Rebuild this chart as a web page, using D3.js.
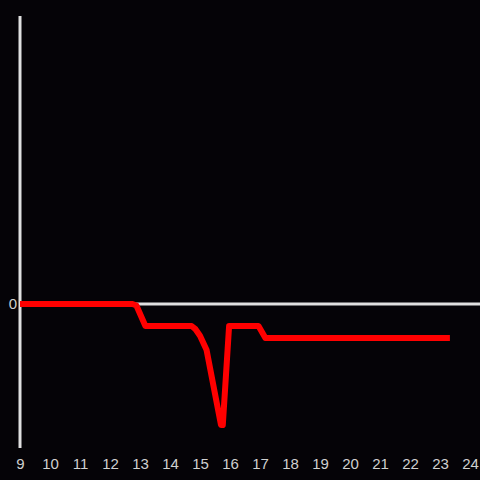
<!DOCTYPE html>
<meta charset="utf-8">
<style>
body { margin: 0; background: #050307; }
svg { display: block; }
.tick text { fill: #d0d0d0; font-size: 15px; font-family: "Liberation Sans", Arial, sans-serif; }
</style>
<svg width="480" height="480"></svg>
<script src="https://d3js.org/d3.v7.min.js"></script>
<script>

// hours of day
var hours = [9, 12.75, 12.88, 13.18, 14.72, 14.85, 15.0, 15.22, 15.7, 15.76, 15.97, 16.95, 17.18, 23.33];
// values
var values = [0, 0, -1, -15.3, -15.3, -17.5, -22, -32, -84, -84, -15.3, -15.3, -23.6, -23.6];

var xTicks = d3.range(9, 25);

var svg = d3.select("svg"),
    width = +svg.attr("width"),
    height = +svg.attr("height");

svg.append("rect").attr("width", width).attr("height", height).attr("fill", "#050307");

var x = d3.scaleLinear().domain([9, 24]).range([20, 470]);
var y = d3.scaleLinear().domain([-100, 200]).range([448, 16]);

// zero line
svg.append("line")
    .attr("x1", 20).attr("x2", width)
    .attr("y1", y(0)).attr("y2", y(0))
    .attr("stroke", "#e0e0e0").attr("stroke-width", 3);

// y axis line
svg.append("line")
    .attr("x1", 20).attr("x2", 20)
    .attr("y1", 16).attr("y2", 448)
    .attr("stroke", "#e0e0e0").attr("stroke-width", 3);

// x labels
var xAxis = svg.append("g")
    .attr("transform", "translate(0,448)")
    .call(d3.axisBottom(x).tickValues(xTicks).tickSize(0).tickPadding(10).tickFormat(d3.format("d")));
xAxis.select(".domain").remove();

// y label
var yAxis = svg.append("g")
    .attr("transform", "translate(20,0)")
    .call(d3.axisLeft(y).tickValues([0]).tickSize(0).tickPadding(3));
yAxis.select(".domain").remove();

var pts = hours.map(function(h, i) { return [h, values[i]]; });

var line = d3.line()
    .x(function(d) { return x(d[0]); })
    .y(function(d) { return y(d[1]); });

svg.append("path")
    .datum(pts)
    .attr("fill", "none")
    .attr("stroke", "#ff0000")
    .attr("stroke-width", 6)
    .attr("stroke-linejoin", "round")
    .attr("d", line);

</script>
